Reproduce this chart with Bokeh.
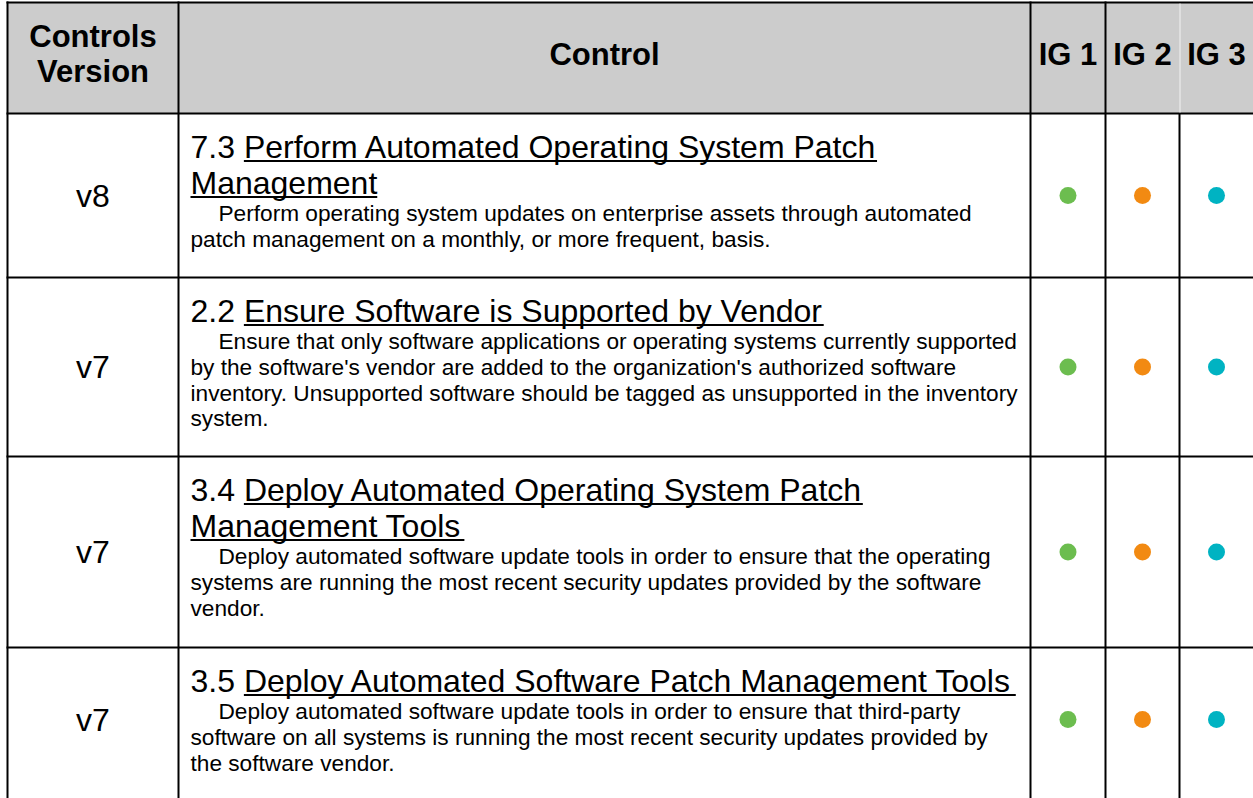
from bokeh.plotting import figure
from bokeh.models import Range1d
from bokeh.core.properties import value
from bokeh.embed import file_html
from bokeh.resources import INLINE

# ---------------- data ----------------
header_labels = ["Controls\nVersion", "Control", "IG 1", "IG 2", "IG 3"]
versions = ["v8", "v7", "v7", "v7"]
control_ids = ["7.3", "2.2", "3.4", "3.5"]
control_titles = [
    ["Perform Automated Operating System Patch", "Management"],
    ["Ensure Software is Supported by Vendor"],
    ["Deploy Automated Operating System Patch", "Management Tools"],
    ["Deploy Automated Software Patch Management Tools"],
]
descriptions = [
    ["Perform operating system updates on enterprise assets through automated",
     "patch management on a monthly, or more frequent, basis."],
    ["Ensure that only software applications or operating systems currently supported",
     "by the software's vendor are added to the organization's authorized software",
     "inventory. Unsupported software should be tagged as unsupported in the inventory",
     "system."],
    ["Deploy automated software update tools in order to ensure that the operating",
     "systems are running the most recent security updates provided by the software",
     "vendor."],
    ["Deploy automated software update tools in order to ensure that third-party",
     "software on all systems is running the most recent security updates provided by",
     "the software vendor."],
]
ig1 = [True, True, True, True]
ig2 = [True, True, True, True]
ig3 = [True, True, True, True]
ig_colors = ["#6cbd4f", "#f28a12", "#00b3c2"]

# ---------------- layout ----------------
W, H = 1253, 798
FONT = "Liberation Sans"
col_edges = [7, 178, 1030, 1105, 1179, 1253]
table_top = 2
row_edges = [113, 277, 456, 647, 791]
TITLE_PX = 32
DESC_PX = 22.67
title_lh = 36
desc_lh = 25.8

# Arial / Liberation Sans advance widths (per 1000 em)
AW = {" ": 278, ".": 278, ",": 278, "'": 191, "-": 333}
for c in "0123456789":
    AW[c] = 556
AW.update(dict(zip("ABCDEFGHIJKLMNOPQRSTUVWXYZ",
                   [667, 667, 722, 722, 667, 611, 778, 722, 278, 500, 667, 556, 833,
                    722, 778, 667, 778, 722, 667, 611, 722, 667, 944, 667, 667, 611])))
AW.update(dict(zip("abcdefghijklmnopqrstuvwxyz",
                   [556, 556, 500, 556, 556, 278, 556, 556, 222, 222, 500, 222, 833,
                    556, 556, 556, 556, 333, 500, 278, 556, 500, 722, 500, 500, 500])))


def text_width(s, px):
    return sum(AW.get(ch, 556) for ch in s) / 1000.0 * px


p = figure(width=W, height=H, x_range=Range1d(0, W), y_range=Range1d(H, 0),
           output_backend="svg", toolbar_location=None, min_border=0,
           x_axis_location=None, y_axis_location=None,
           outline_line_color=None)
p.grid.visible = False
p.background_fill_color = "white"
p.border_fill_color = "white"

# header background
p.quad(left=[col_edges[0]], right=[W], top=[table_top], bottom=[row_edges[0]],
       fill_color="#cccccc", line_color=None)

# grid lines
hy = [table_top] + row_edges[:-1]
p.segment(x0=[col_edges[0] - 1] * len(hy), x1=[W] * len(hy), y0=hy, y1=hy,
          line_color="black", line_width=2)
vx = col_edges[:-2]
p.segment(x0=vx, x1=vx, y0=[table_top - 1] * len(vx), y1=[H] * len(vx),
          line_color="black", line_width=2)
# last separator: black in body, faint light line in the header
p.segment(x0=[col_edges[4]], x1=[col_edges[4]], y0=[row_edges[0]], y1=[H],
          line_color="black", line_width=2)
p.segment(x0=[col_edges[4] + 0.5], x1=[col_edges[4] + 0.5],
          y0=[table_top + 1], y1=[row_edges[0] - 1],
          line_color="#f2f2f2", line_width=1)

# header texts
centers = [(col_edges[i] + col_edges[i + 1]) / 2 for i in range(5)]
hx, hyy, ht = [], [], []
hdr_mid = (table_top + row_edges[0]) / 2 - 4
for i, lab in enumerate(header_labels):
    lines = lab.split("\n")
    n = len(lines)
    for k, ln in enumerate(lines):
        hx.append(centers[i])
        hyy.append(hdr_mid + (k - (n - 1) / 2) * 35)
        ht.append(ln)
p.text(x=hx, y=hyy, text=ht, text_font=value(FONT), text_font_size="31px",
       text_font_style="bold", text_align="center", text_baseline="middle",
       text_color="black")

# rows
row_tops = row_edges[:4]
row_bots = row_edges[1:]
vx_, vy_ = [], []
tx, ty, tt = [], [], []
ux0, ux1, uy = [], [], []
dx, dy, dt = [], [], []
gx, gy, gc = [], [], []
title_x = col_edges[1] + 12
for r in range(4):
    top, bot = row_tops[r], row_bots[r]
    mid = (top + bot) / 2
    vx_.append(centers[0])
    vy_.append(mid)
    base = top + 33.5
    for k, ln in enumerate(control_titles[r]):
        yc = base + k * title_lh
        if k == 0:
            prefix = control_ids[r] + " "
            tx.append(title_x); ty.append(yc); tt.append(prefix + ln)
            x0 = title_x + text_width(prefix, TITLE_PX)
        else:
            tx.append(title_x); ty.append(yc); tt.append(ln)
            x0 = title_x
        ux0.append(x0)
        ux1.append(x0 + text_width(ln, TITLE_PX))
        uy.append(yc + 14)
    dbase = base + (len(control_titles[r]) - 1) * title_lh + 30
    for k, ln in enumerate(descriptions[r]):
        dx.append(title_x + (28 if k == 0 else 0))
        dy.append(dbase + k * desc_lh)
        dt.append(ln)
    for j, flags in enumerate([ig1, ig2, ig3]):
        if flags[r]:
            gx.append(centers[2 + j]); gy.append(mid); gc.append(ig_colors[j])

p.text(x=vx_, y=vy_, text=versions, text_font=value(FONT), text_font_size="32px",
       text_align="center", text_baseline="middle", text_color="black")
p.text(x=tx, y=ty, text=tt, text_font=value(FONT), text_font_size=f"{TITLE_PX}px",
       text_align="left", text_baseline="middle", text_color="black")
p.segment(x0=ux0, x1=ux1, y0=uy, y1=uy, line_color="black", line_width=2)
p.text(x=dx, y=dy, text=dt, text_font=value(FONT), text_font_size=f"{DESC_PX}px",
       text_align="left", text_baseline="middle", text_color="black")
p.scatter(x=gx, y=gy, color=gc, size=17, marker="circle", line_color=None)

open("out.html", "w").write(file_html(p, INLINE))
